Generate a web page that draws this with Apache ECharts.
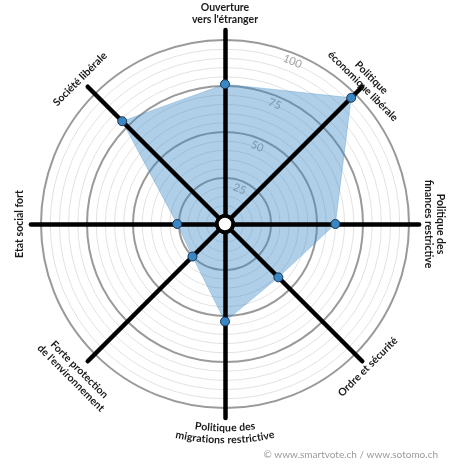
<!DOCTYPE html>
<html>
<head>
<meta charset="utf-8">
<script src="https://cdn.jsdelivr.net/npm/echarts@6/dist/echarts.min.js"></script>
<style>
html,body{margin:0;padding:0;background:#fff;}
#chart{width:450px;height:470px;}
</style>
</head>
<body>
<div id="chart"></div>
<script>
// Axes listed clockwise starting at the top
var categories = [
  "Ouverture\nvers l'étranger",
  "Politique\néconomique libérale",
  "Politique des\nfinances restrictive",
  "Ordre et sécurité",
  "Politique des\nmigrations restrictive",
  "Forte protection\nde l'environnement",
  "Etat social fort",
  "Société libérale"
];
var values = [76, 97, 60, 41, 53, 25, 26, 79];
var tickValues = [25, 50, 75, 100];
var tickLabels = ["25", "50", "75", "100"];
var credit = "© www.smartvote.ch / www.sotomo.ch";

// layout
var CX = 225, CY = 224, R = 184;
var labelRadius = [210, 201, 209, 202, 210, 212, 205, 205];
var labelRotation = [0, -Math.PI/4, -Math.PI/2, Math.PI/4, 0, -Math.PI/4, Math.PI/2, Math.PI/4];
var arcLabel = 4; // bottom label follows the circle

var n = categories.length;
var order = [];
for (var i = 0; i < n; i++) order.push((n - i) % n);
function reorder(arr){ return order.map(function(k){ return arr[k]; }); }

function indicators(max){
  return reorder(categories).map(function(c){ return {name: c, min: 0, max: max}; });
}
var zeros = values.map(function(){ return 0; });

var chart = echarts.init(document.getElementById('chart'), null, {renderer: 'canvas'});

var graphics = [];
var FONT = 'Lato, "Open Sans", sans-serif';
var LFONT = 'bold 10.5px ' + FONT;
var measure = document.createElement('canvas').getContext('2d');
measure.font = LFONT;

categories.forEach(function(c, k){
  var a = Math.PI/2 - k * 2*Math.PI/n;
  if (k === arcLabel) {
    var lines = c.split('\n');
    var lh = 12;
    lines.forEach(function(line, li){
      var r = labelRadius[k] + (li - (lines.length-1)/2) * lh;
      var total = measure.measureText(line).width;
      var s = -total/2;
      for (var j = 0; j < line.length; j++) {
        var ch = line[j];
        var w = measure.measureText(ch).width;
        var phi = (s + w/2) / r;
        graphics.push({
          type: 'text',
          x: CX - r*Math.sin(phi) * -1,
          y: CY + r*Math.cos(phi),
          rotation: phi,
          z: 10,
          style: {text: ch, align: 'center', verticalAlign: 'middle',
            fill: '#1a1a1a', font: LFONT}
        });
        s += w;
      }
    });
    return;
  }
  graphics.push({
    type: 'text',
    x: CX + labelRadius[k]*Math.cos(a),
    y: CY - labelRadius[k]*Math.sin(a),
    rotation: labelRotation[k],
    z: 10,
    style: {
      text: c, align: 'center', verticalAlign: 'middle',
      fill: '#1a1a1a', font: LFONT, lineHeight: 12
    }
  });
});
var tickAngle = Math.PI/2 - 22.5*Math.PI/180;
tickValues.forEach(function(v, k){
  var r = v/100*R - 8;
  graphics.push({
    type: 'text',
    x: CX + r*Math.cos(tickAngle),
    y: CY - r*Math.sin(tickAngle),
    rotation: -22.5*Math.PI/180,
    z: 1,
    style: {text: tickLabels[k], align: 'center', verticalAlign: 'middle',
      fill: '#a0a0a0', font: '11px ' + FONT}
  });
});
graphics.push({
  type: 'text', right: 12, top: 450, z: 10,
  style: {text: credit, fill: '#9a9a9a', font: '10px ' + FONT}
});

var common = {
  center: [CX, CY], shape: 'circle', startAngle: 90,
  axisName: {show: false}, splitArea: {show: false},
  axisTick: {show: false}, axisLabel: {show: false}
};

chart.setOption({
  animation: false,
  radar: [
    Object.assign({}, common, {
      radius: R, indicator: indicators(100), splitNumber: 20, z: 0,
      axisLine: {show: false},
      splitLine: {lineStyle: {color: '#e2e2e2', width: 1}}
    }),
    Object.assign({}, common, {
      radius: R, indicator: indicators(100), splitNumber: 4, z: 1,
      axisLine: {show: false},
      splitLine: {lineStyle: {color: '#9a9a9a', width: 2}}
    }),
    Object.assign({}, common, {
      radius: R*1.055, indicator: indicators(105.5), splitNumber: 1, z: 3,
      splitLine: {show: false},
      axisLine: {lineStyle: {color: '#000', width: 4.5}}
    })
  ],
  graphic: graphics,
  series: [
    {
      type: 'radar', radarIndex: 1, z: 2, silent: true,
      symbol: 'none',
      lineStyle: {width: 0.5, color: 'rgba(60,138,198,0.6)'},
      areaStyle: {color: 'rgba(60,138,198,0.58)'},
      data: [{value: reorder(values)}]
    },
    {
      type: 'radar', radarIndex: 1, z: 4, silent: true,
      symbol: 'circle', symbolSize: 9,
      itemStyle: {color: '#3a87c6', borderColor: '#1b3550', borderWidth: 1},
      lineStyle: {width: 0, opacity: 0},
      data: [{value: reorder(values)}]
    },
    {
      type: 'radar', radarIndex: 1, z: 5, silent: true,
      symbol: 'circle', symbolSize: 16,
      itemStyle: {color: '#fff', borderColor: '#000', borderWidth: 3.5},
      lineStyle: {width: 0, opacity: 0},
      data: [{value: zeros}]
    }
  ]
});
</script>
</body>
</html>
